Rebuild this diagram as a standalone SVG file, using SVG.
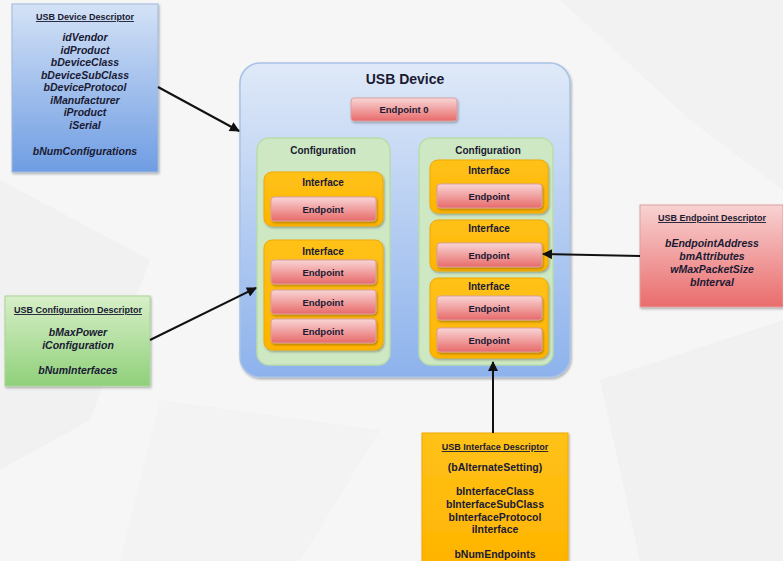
<svg xmlns="http://www.w3.org/2000/svg" width="783" height="561" viewBox="0 0 783 561">
<defs>
<linearGradient id="gBlue" x1="0" y1="0" x2="0" y2="1"><stop offset="0" stop-color="#d4e2f6"/><stop offset="1" stop-color="#6f9de3"/></linearGradient>
<linearGradient id="gDev" x1="0" y1="0" x2="0" y2="1"><stop offset="0" stop-color="#dfe9f8"/><stop offset="1" stop-color="#8db2ec"/></linearGradient>
<linearGradient id="gGreen" x1="0" y1="0" x2="0" y2="1"><stop offset="0" stop-color="#d8efc8"/><stop offset="1" stop-color="#8fd07a"/></linearGradient>
<linearGradient id="gRed" x1="0" y1="0" x2="0" y2="1"><stop offset="0" stop-color="#f8d2d2"/><stop offset="1" stop-color="#ea6c6c"/></linearGradient>
<linearGradient id="gEp" x1="0" y1="0" x2="0" y2="1"><stop offset="0" stop-color="#f9d6d6"/><stop offset="1" stop-color="#e86a6a"/></linearGradient>
<linearGradient id="gOr" x1="0" y1="0" x2="0" y2="1"><stop offset="0" stop-color="#ffc21a"/><stop offset="1" stop-color="#ffb400"/></linearGradient>
<filter id="sh" x="-10%" y="-10%" width="130%" height="130%"><feDropShadow dx="1" dy="1.5" stdDeviation="1.2" flood-color="#000" flood-opacity="0.3"/></filter>
<marker id="ah" viewBox="0 0 10 10" refX="9" refY="5" markerWidth="11" markerHeight="10" orient="auto" markerUnits="userSpaceOnUse"><path d="M0,0 L10,5 L0,10 z" fill="#111"/></marker>
<style>
text{font-family:"Liberation Sans",Arial,sans-serif;font-weight:bold;fill:#1a1a33;text-anchor:middle}
.t{font-size:9px;text-decoration:underline}
.f{font-size:10.5px;font-style:italic}
.n{font-size:10.5px}
.dt{font-size:14px}
.ct{font-size:10px}
.it{font-size:10px}
.ep{font-size:9.5px}
.cfg{fill:#cfe8c4;stroke:#b9dcab;stroke-width:1.5}
.ifc{fill:url(#gOr);stroke:#f0a800;stroke-width:1}
.epr{fill:url(#gEp);stroke:#d9a0a0;stroke-width:1}
.conn{stroke:#111;stroke-width:2;fill:none}
</style>
</defs>
<rect width="783" height="561" fill="#f6f6f6"/>
<polygon points="0,180 150,260 90,420 0,470" fill="#f1f1f1"/>
<polygon points="560,0 783,0 783,190 690,120" fill="#f2f2f2"/>
<polygon points="600,380 783,320 783,561 640,561" fill="#f1f1f1"/>
<polygon points="160,400 380,430 300,561 120,561" fill="#f3f3f3"/>

<g id="device-descriptor">
<rect x="12" y="4" width="146" height="168" fill="url(#gBlue)" stroke="#9fb8dc" stroke-width="1" filter="url(#sh)"/>
<text class="t" x="85" y="20">USB Device Descriptor</text>
<text class="f" x="85" y="41">idVendor</text>
<text class="f" x="85" y="53.5">idProduct</text>
<text class="f" x="85" y="66">bDeviceClass</text>
<text class="f" x="85" y="78.5">bDeviceSubClass</text>
<text class="f" x="85" y="91">bDeviceProtocol</text>
<text class="f" x="85" y="103.5">iManufacturer</text>
<text class="f" x="85" y="116">iProduct</text>
<text class="f" x="85" y="128.5">iSerial</text>
<text class="f" x="85" y="155">bNumConfigurations</text>
</g>

<g id="config-descriptor">
<rect x="5" y="296" width="145" height="90" fill="url(#gGreen)" stroke="#a9d598" stroke-width="1" filter="url(#sh)"/>
<text class="t" x="78" y="313">USB Configuration Descriptor</text>
<text class="f" x="78" y="336">bMaxPower</text>
<text class="f" x="78" y="348.5">iConfiguration</text>
<text class="f" x="78" y="374">bNumInterfaces</text>
</g>

<g id="usb-device">
<rect x="240" y="63" width="330" height="314" rx="20" fill="url(#gDev)" stroke="#a8c2e6" stroke-width="1.5" filter="url(#sh)"/>
<text class="dt" x="405" y="84">USB Device</text>
</g>

<g id="endpoint0">
<rect x="351" y="98" width="106" height="23" rx="3" class="epr" filter="url(#sh)"/>
<text class="ep" x="404" y="113">Endpoint 0</text>
</g>

<g id="config-left">
<rect x="257" y="138" width="133" height="227" rx="12" class="cfg"/>
<text class="ct" x="323" y="154">Configuration</text>
</g>
<g id="interface-l1">
<rect x="264" y="172" width="119" height="54" rx="8" class="ifc" filter="url(#sh)"/>
<text class="it" x="323" y="186">Interface</text>
<rect x="271" y="197" width="105" height="24" rx="3" class="epr" filter="url(#sh)"/>
<text class="ep" x="323" y="212.5">Endpoint</text>
</g>
<g id="interface-l2">
<rect x="264" y="240" width="119" height="110" rx="8" class="ifc" filter="url(#sh)"/>
<text class="it" x="323" y="255">Interface</text>
<rect x="271" y="260" width="105" height="24" rx="3" class="epr" filter="url(#sh)"/>
<text class="ep" x="323" y="275.5">Endpoint</text>
<rect x="271" y="290" width="105" height="24" rx="3" class="epr" filter="url(#sh)"/>
<text class="ep" x="323" y="305.5">Endpoint</text>
<rect x="271" y="319" width="105" height="24" rx="3" class="epr" filter="url(#sh)"/>
<text class="ep" x="323" y="334.5">Endpoint</text>
</g>

<g id="config-right">
<rect x="419" y="138" width="134" height="227" rx="12" class="cfg"/>
<text class="ct" x="488" y="154">Configuration</text>
</g>
<g id="interface-r1">
<rect x="430" y="160" width="118" height="53" rx="8" class="ifc" filter="url(#sh)"/>
<text class="it" x="489" y="174">Interface</text>
<rect x="437" y="184" width="105" height="24" rx="3" class="epr" filter="url(#sh)"/>
<text class="ep" x="489" y="199.5">Endpoint</text>
</g>
<g id="interface-r2">
<rect x="430" y="220" width="118" height="51" rx="8" class="ifc" filter="url(#sh)"/>
<text class="it" x="489" y="232">Interface</text>
<rect x="437" y="243" width="105" height="24" rx="3" class="epr" filter="url(#sh)"/>
<text class="ep" x="489" y="258.5">Endpoint</text>
</g>
<g id="interface-r3">
<rect x="430" y="278" width="118" height="80" rx="8" class="ifc" filter="url(#sh)"/>
<text class="it" x="489" y="290">Interface</text>
<rect x="437" y="296" width="105" height="24" rx="3" class="epr" filter="url(#sh)"/>
<text class="ep" x="489" y="311.5">Endpoint</text>
<rect x="437" y="328" width="105" height="24" rx="3" class="epr" filter="url(#sh)"/>
<text class="ep" x="489" y="343.5">Endpoint</text>
</g>

<g id="endpoint-descriptor">
<rect x="640" y="205" width="143" height="102" fill="url(#gRed)" stroke="#e0a0a0" stroke-width="1" filter="url(#sh)"/>
<text class="t" x="712" y="221">USB Endpoint Descriptor</text>
<text class="f" x="712" y="247">bEndpointAddress</text>
<text class="f" x="712" y="260">bmAttributes</text>
<text class="f" x="712" y="273">wMaxPacketSize</text>
<text class="f" x="712" y="286">bInterval</text>
</g>

<g id="interface-descriptor">
<rect x="422" y="433" width="146" height="132" fill="url(#gOr)" stroke="#f0a800" stroke-width="1" filter="url(#sh)"/>
<text class="t" x="495" y="450">USB Interface Descriptor</text>
<text class="n" x="495" y="471">(bAlternateSetting)</text>
<text class="n" x="495" y="495">bInterfaceClass</text>
<text class="n" x="495" y="508">bInterfaceSubClass</text>
<text class="n" x="495" y="521">bInterfaceProtocol</text>
<text class="n" x="495" y="533">iInterface</text>
<text class="n" x="495" y="558">bNumEndpoints</text>
</g>

<g id="connectors">
<line class="conn" x1="158" y1="87" x2="239" y2="131" marker-end="url(#ah)"/>
<line class="conn" x1="150" y1="340" x2="256" y2="288" marker-end="url(#ah)"/>
<line class="conn" x1="640" y1="256" x2="543" y2="254" marker-end="url(#ah)"/>
<line class="conn" x1="493" y1="433" x2="493" y2="362" marker-end="url(#ah)"/>
</g>
</svg>
